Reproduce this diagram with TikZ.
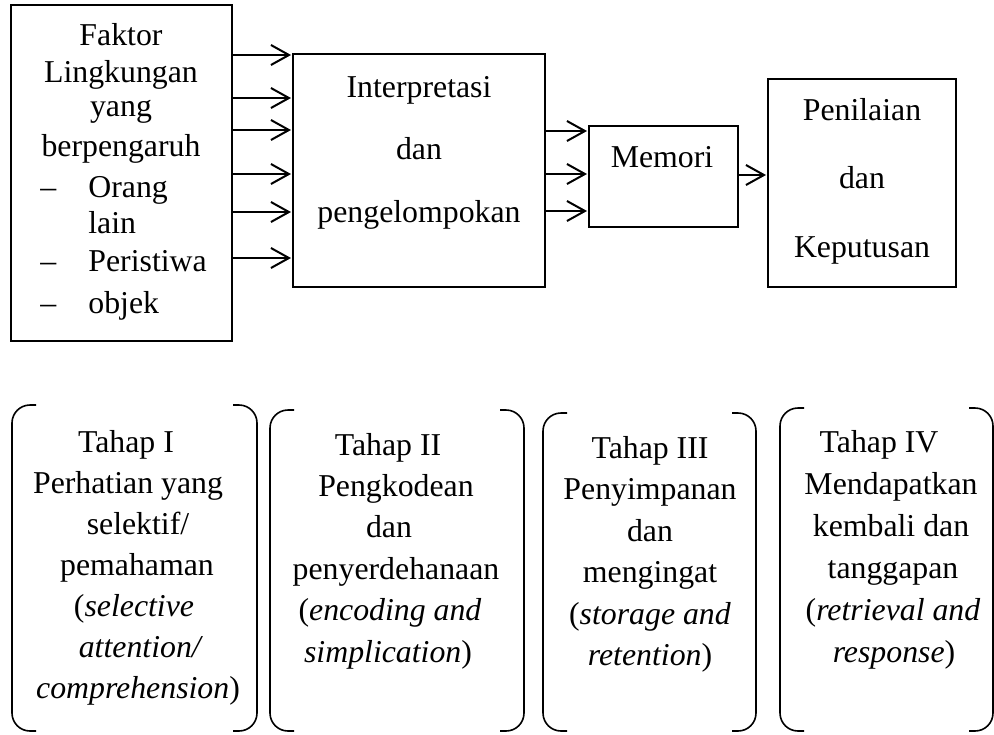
\documentclass[tikz,border=0pt]{standalone}
\usepackage{fontspec}
\setmainfont{Liberation Serif}
\usetikzlibrary{arrows.meta}
\begin{document}
\begin{tikzpicture}[x=0.5pt,y=-0.5pt,
  box/.style={draw,line width=0.9pt,inner sep=0pt,outer sep=0pt},
  txt/.style={inner sep=0pt,font=\fontsize{15.9pt}{19pt}\selectfont,anchor=base},
  ltxt/.style={txt,anchor=base west},
  arr/.style={line width=1pt,-{Straight Barb[length=9pt,width=10pt,line width=1pt]},shorten >=1pt},
  brk/.style={line width=0.8pt,rounded corners=9pt}]
\useasboundingbox (0,0) rectangle (994,734);

% boxes
\node[box,minimum width=110.5pt,minimum height=168pt] (lf) at (121.5,173) {};
\node[box,minimum width=126pt,minimum height=116.5pt] (ip) at (419,170.5) {};
\node[box,minimum width=74.5pt,minimum height=50.5pt] (mem) at (663.5,176.5) {};
\node[box,minimum width=94pt,minimum height=104pt] (pk) at (862,183) {};

% left box text
\node[txt] (lf1) at (121,45) {Faktor};
\node[txt] (lf2) at (121,82) {Lingkungan};
\node[txt] (lf3) at (121,116) {yang};
\node[txt] (lf4) at (121,156) {berpengaruh};
\node[ltxt] (d1) at (40,197) {–};
\node[ltxt] (lf5) at (88,197) {Orang};
\node[ltxt] (lf6) at (88,233) {lain};
\node[ltxt] (d2) at (40,271) {–};
\node[ltxt] (lf7) at (88,271) {Peristiwa};
\node[ltxt] (d3) at (40,313) {–};
\node[ltxt] (lf8) at (88,313) {objek};

% interpretasi text
\node[txt] (ip1) at (419,97) {Interpretasi};
\node[txt] (ip2) at (419,159) {dan};
\node[txt] (ip3) at (419,222) {pengelompokan};

% memori text
\node[txt] (mem1) at (662,167) {Memori};

% penilaian text
\node[txt] (pk1) at (862,120) {Penilaian};
\node[txt] (pk2) at (862,188) {dan};
\node[txt] (pk3) at (862,257) {Keputusan};

% arrows
\foreach \yy in {55,98,130,174,212,258}
  \draw[arr] (lf.east |- 0,\yy) -- (ip.west |- 0,\yy);
\foreach \yy in {131,174,211}
  \draw[arr] (ip.east |- 0,\yy) -- (mem.west |- 0,\yy);
\draw[arr] (mem.east |- 0,175) -- (pk.west |- 0,175);

% bracket pairs
\foreach \xa/\xb/\tp in {12/257/405, 270/524/410, 543/756/413, 780/993/408} {
  \draw[brk] (\xa+24,\tp) -- (\xa,\tp) -- (\xa,731) -- (\xa+24,731);
  \draw[brk] (\xb-24,\tp) -- (\xb,\tp) -- (\xb,731) -- (\xb-24,731);
}

% stage I
\node[txt] (a1) at (126,452) {Tahap I};
\node[txt] (a2) at (128,493) {Perhatian yang};
\node[txt] (a3) at (138,534) {selektif/};
\node[txt] (a4) at (137,575) {pemahaman};
\node[txt] (a5) at (134,616) {(\textit{selective}};
\node[txt] (a6) at (141,657) {\textit{attention/}};
\node[txt] (a7) at (138,698) {\textit{comprehension})};

% stage II
\node[txt] (b1) at (388,455) {Tahap II};
\node[txt] (b2) at (396,496.4) {Pengkodean};
\node[txt] (b3) at (389,537.8) {dan};
\node[txt] (b4) at (396,579.2) {penyerdehanaan};
\node[txt] (b5) at (390,620.6) {(\textit{encoding and}};
\node[txt] (b6) at (388,662) {\textit{simplication})};

% stage III
\node[txt] (c1) at (650,458) {Tahap III};
\node[txt] (c2) at (650,499.5) {Penyimpanan};
\node[txt] (c3) at (650,541) {dan};
\node[txt] (c4) at (650,582.5) {mengingat};
\node[txt] (c5) at (650,624) {(\textit{storage and}};
\node[txt] (c6) at (650,665.5) {\textit{retention})};

% stage IV
\node[txt] (e1) at (879,452) {Tahap IV};
\node[txt] (e2) at (891,494) {Mendapatkan};
\node[txt] (e3) at (891,536) {kembali dan};
\node[txt] (e4) at (893,578) {tanggapan};
\node[txt] (e5) at (893,620) {(\textit{retrieval and}};
\node[txt] (e6) at (894,662) {\textit{response})};
\end{tikzpicture}
\end{document}
